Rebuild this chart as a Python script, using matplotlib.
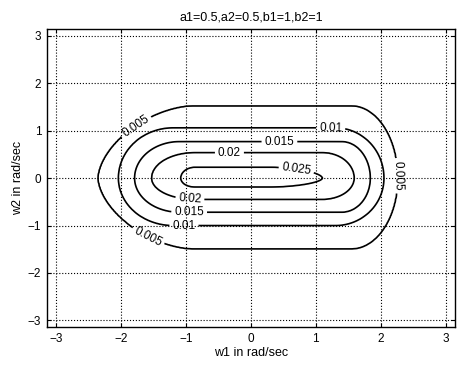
import numpy as np
import matplotlib
matplotlib.use("Agg")
import matplotlib.pyplot as plt

plt.rcParams['font.family'] = ['Liberation Sans', 'DejaVu Sans']

# contour levels and the extent of each closed curve (rad/sec)
levels = [0.005, 0.01, 0.015, 0.02, 0.025]
left_tip = [-2.35, -2.04, -1.79, -1.53, -1.08]
right_tip = [2.26, 2.05, 1.84, 1.59, 1.10]
left_flat = [-0.90, -1.20, -1.10, -0.86, -0.86]
right_flat = [1.55, 1.30, 1.40, 1.10, 0.30]
top = [1.52, 1.06, 0.77, 0.54, 0.23]
bottom = [-1.49, -1.00, -0.72, -0.45, -0.19]
left_power = [1.7, 2.0, 2.0, 2.0, 2.0]
right_power = [2.0, 2.0, 2.0, 2.0, 1.8]
peak = 0.028

title = "a1=0.5,a2=0.5,b1=1,b2=1"
xlabel = "w1 in rad/sec"
ylabel = "w2 in rad/sec"
ticks = [-3, -2, -1, 0, 1, 2, 3]


def level_radius(x, y, k):
    # normalised distance of each point to the k-th stadium-shaped curve (1 on the curve)
    flat = np.where(x < 0, -left_flat[k], right_flat[k])
    tip = np.where(x < 0, -left_tip[k], right_tip[k])
    p = np.where(x < 0, left_power[k], right_power[k])
    half_h = np.where(y >= 0, top[k], -bottom[k])
    dx = np.maximum(np.abs(x) - flat, 0) / (tip - flat)
    dy = np.abs(y) / half_h
    return (dx ** p + dy ** p) ** (1.0 / p)


w1 = np.linspace(-np.pi, np.pi, 400)
w2 = np.linspace(-np.pi, np.pi, 400)
W1, W2 = np.meshgrid(w1, w2)

s = np.array([np.log(level_radius(W1, W2, k) + 1e-9) for k in range(len(levels))])
lv = np.array(levels)
Z = np.full(W1.shape, lv[0] * 0.5)
# between two neighbouring curves: blend on the log radius
for k in range(len(levels) - 1):
    inside = (s[k] <= 0) & (s[k + 1] > 0)
    t = s[k][inside] / (s[k][inside] - s[k + 1][inside])
    Z[inside] = lv[k] + t * (lv[k + 1] - lv[k])
outer = s[0] > 0
Z[outer] = lv[0] * np.exp(-s[0][outer])
core = s[-1] <= 0
Z[core] = lv[-1] + (peak - lv[-1]) * (1 - np.exp(s[-1][core]))

fig = plt.figure(figsize=(4.59, 3.68), dpi=100)
ax = fig.add_axes([0.102, 0.111, 0.889, 0.810])

cs = ax.contour(W1, W2, Z, levels=levels, colors='black', linewidths=1.2)
label_spots = [(-1.74, 1.04), (-1.63, -1.35), (2.24, 0.05),
               (1.23, 0.97), (-1.03, -1.02),
               (0.44, 0.74), (-0.95, -0.72),
               (-0.33, 0.52), (-0.94, -0.46),
               (0.69, 0.07)]
ax.clabel(cs, fmt='%g', fontsize=8.5, inline=True, inline_spacing=3, manual=label_spots)

ax.set_xlim(-np.pi, np.pi)
ax.set_ylim(-np.pi, np.pi)
ax.set_xticks(ticks)
ax.set_yticks(ticks)
ax.tick_params(direction='in', top=True, right=True, labelsize=8.5, length=3, pad=4)
ax.grid(True, linestyle=':', color='black', linewidth=0.8)
for sp in ax.spines.values():
    sp.set_linewidth(1.0)

ax.set_title(title, fontsize=9, pad=6)
ax.set_xlabel(xlabel, fontsize=9, labelpad=2)
ax.set_ylabel(ylabel, fontsize=9, labelpad=3)

fig.savefig("out.png", dpi=100)
